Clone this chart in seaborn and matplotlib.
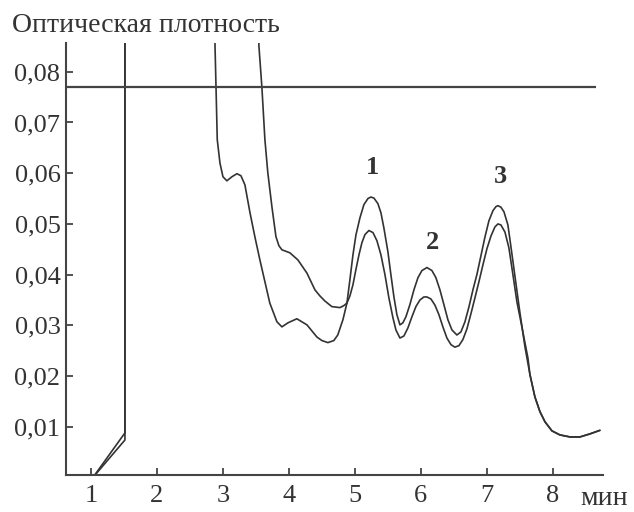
import matplotlib
matplotlib.use("Agg")
import matplotlib.pyplot as plt
import seaborn as sns
import pandas as pd
from matplotlib.ticker import FuncFormatter

# Chromatogram traces: time (min) and optical density
time_a = [1.03, 1.515, 1.515, 2.86, 2.88, 2.895, 2.914, 2.955, 3.0, 3.06, 3.136, 3.212,
          3.273, 3.333, 3.41, 3.485, 3.56, 3.636, 3.71, 3.818, 3.894, 3.985, 4.12, 4.273,
          4.424, 4.5, 4.59, 4.68, 4.74, 4.818, 4.879, 4.924, 4.970, 5.015, 5.076, 5.136,
          5.197, 5.242, 5.288, 5.348, 5.394, 5.439, 5.5, 5.545, 5.591, 5.636, 5.682, 5.727,
          5.773, 5.833, 5.894, 5.955, 6.015, 6.091, 6.167, 6.227, 6.288, 6.348, 6.409, 6.470,
          6.545, 6.606, 6.667, 6.727, 6.788, 6.848, 6.909, 6.970, 7.030, 7.091, 7.136, 7.167,
          7.212, 7.258, 7.318, 7.364, 7.432, 7.5, 7.576, 7.652, 7.727, 7.803, 7.879, 7.985,
          8.106, 8.258, 8.409, 8.561, 8.712]
od_a = [0.0, 0.0088, 0.12, 0.12, 0.0851, 0.077, 0.0666, 0.0620, 0.0593, 0.0585, 0.0593, 0.0599,
        0.0595, 0.0577, 0.0522, 0.0474, 0.0429, 0.0386, 0.0344, 0.0307, 0.0297, 0.0305, 0.0313, 0.0301,
        0.0277, 0.0270, 0.0266, 0.0270, 0.0281, 0.0311, 0.0344, 0.0390, 0.0439, 0.0478, 0.0512, 0.0538,
        0.0550, 0.0553, 0.0551, 0.0540, 0.0522, 0.0492, 0.0445, 0.0400, 0.0356, 0.0321, 0.0301, 0.0305,
        0.0317, 0.0341, 0.0370, 0.0394, 0.0408, 0.0414, 0.0408, 0.0394, 0.0370, 0.0341, 0.0311, 0.0291,
        0.0281, 0.0287, 0.0307, 0.0336, 0.0370, 0.0400, 0.0437, 0.0474, 0.0506, 0.0526, 0.0534, 0.0536,
        0.0533, 0.0524, 0.0498, 0.0455, 0.0390, 0.0325, 0.0258, 0.0203, 0.0159, 0.0130, 0.0110, 0.0092,
        0.0084, 0.0080, 0.0080, 0.0086, 0.0093]

time_b = [1.03, 1.515, 1.515, 3.52, 3.545, 3.59, 3.636, 3.68, 3.742, 3.803, 3.848, 3.894,
          4.015, 4.136, 4.273, 4.394, 4.47, 4.545, 4.65, 4.773, 4.833, 4.879, 4.924, 4.970,
          5.015, 5.061, 5.106, 5.152, 5.212, 5.273, 5.333, 5.394, 5.455, 5.515, 5.576, 5.621,
          5.682, 5.742, 5.803, 5.864, 5.924, 5.985, 6.045, 6.091, 6.152, 6.212, 6.273, 6.333,
          6.394, 6.455, 6.515, 6.576, 6.636, 6.697, 6.758, 6.818, 6.879, 6.939, 7.0, 7.061,
          7.121, 7.167, 7.212, 7.273, 7.333, 7.394, 7.455, 7.515, 7.576, 7.621, 7.652, 7.727,
          7.803, 7.879, 7.985, 8.106, 8.258, 8.409, 8.561, 8.712]
od_b = [0.0, 0.0074, 0.12, 0.12, 0.0851, 0.077, 0.0666, 0.0601, 0.0534, 0.0475, 0.0457, 0.0449,
        0.0443, 0.0429, 0.0403, 0.0370, 0.0358, 0.0348, 0.0337, 0.0335, 0.0339, 0.0344, 0.0358, 0.0380,
        0.0410, 0.0439, 0.0463, 0.0479, 0.0487, 0.0483, 0.0467, 0.0439, 0.0400, 0.0354, 0.0315, 0.0291,
        0.0275, 0.0279, 0.0295, 0.0317, 0.0337, 0.0350, 0.0356, 0.0356, 0.0352, 0.0340, 0.0321, 0.0297,
        0.0275, 0.0262, 0.0257, 0.0260, 0.0272, 0.0293, 0.0323, 0.0354, 0.0386, 0.0419, 0.0451, 0.0476,
        0.0494, 0.0500, 0.0498, 0.0484, 0.0453, 0.0400, 0.0346, 0.0307, 0.0266, 0.0236, 0.0203, 0.0159,
        0.0130, 0.0110, 0.0092, 0.0084, 0.0080, 0.0080, 0.0086, 0.0093]

# Reference level line
ref_level = 0.077
ref_end = 8.65

# Peak labels
peak_names = ["1", "2", "3"]
peak_x = [5.27, 6.17, 7.21]
peak_y = [0.0611, 0.0464, 0.0593]

x_ticks = [1, 2, 3, 4, 5, 6, 7, 8]
y_ticks = [0.01, 0.02, 0.03, 0.04, 0.05, 0.06, 0.07, 0.08]

sns.set_style("ticks")
plt.rcParams["font.family"] = ["Liberation Serif", "DejaVu Serif"]

ink = "#333333"
fig = plt.figure(figsize=(6.34, 5.12), dpi=100)
ax = fig.add_axes([0.104, 0.0723, 0.847, 0.844])

df_a = pd.DataFrame({"t": time_a, "od": od_a})
df_b = pd.DataFrame({"t": time_b, "od": od_b})
sns.lineplot(data=df_a, x="t", y="od", estimator=None, sort=False, color=ink, lw=1.2, ax=ax)
sns.lineplot(data=df_b, x="t", y="od", estimator=None, sort=False, color=ink, lw=1.2, ax=ax)

ax.hlines(ref_level, 0.62, ref_end, color="#444444", lw=1.6)

for name, px, py in zip(peak_names, peak_x, peak_y):
    ax.text(px, py, name, ha="center", va="center", fontsize=19, fontweight="bold", color=ink)

ax.set_xlim(0.621, 8.758)
ax.set_ylim(0.0005, 0.0857)
ax.set_xticks(x_ticks)
ax.set_yticks(y_ticks)
ax.yaxis.set_major_formatter(FuncFormatter(lambda v, p: f"{v:.2f}".replace(".", ",")))
ax.set_xlabel("")
ax.set_ylabel("")
ax.tick_params(direction="in", length=5, width=1.3, color="#444444",
               labelsize=19, labelcolor=ink)
ax.tick_params(axis="y", pad=4)
ax.tick_params(axis="x", pad=7)
sns.despine(ax=ax)
for s in ("left", "bottom"):
    ax.spines[s].set_color("#444444")
    ax.spines[s].set_linewidth(1.5)

fig.text(12 / 634, 1 - 25 / 512, "Оптическая плотность", ha="left", va="center",
         fontsize=20, color=ink)
fig.text(580 / 634, 1 / 512, "мин", ha="left", va="bottom", fontsize=20, color=ink)

fig.savefig("out.png", dpi=100)
